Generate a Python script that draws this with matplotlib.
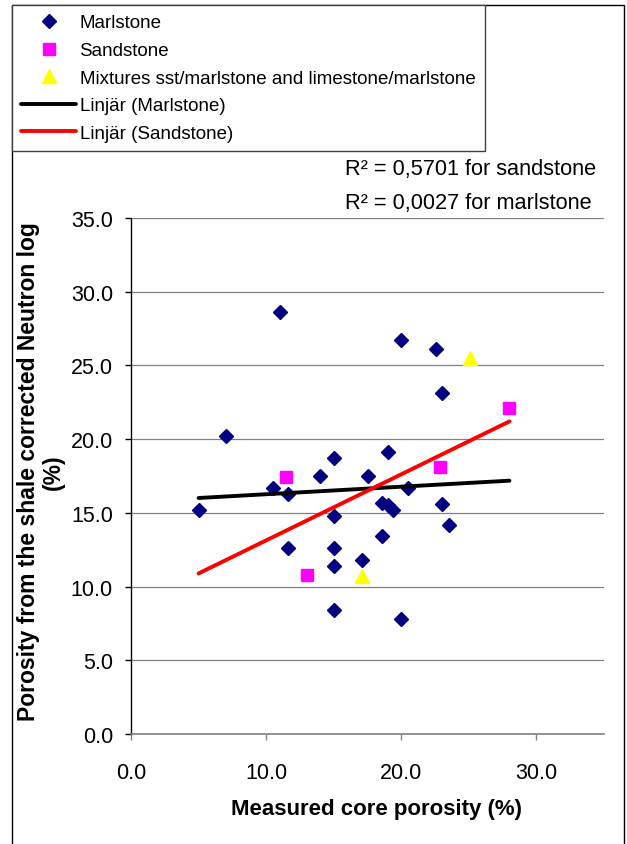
import numpy as np
import matplotlib
matplotlib.use('Agg')
import matplotlib.pyplot as plt
from matplotlib.patches import Rectangle

plt.rcParams['font.family'] = ['Liberation Sans', 'DejaVu Sans']

# Measured core porosity (%) and neutron log porosity (%) per lithology
marl_x = [5.0, 7.0, 10.5, 11.6, 11.6, 14.0, 15.0, 15.0, 15.0, 15.0, 15.0, 17.1, 17.5,
          18.6, 18.6, 19.0, 19.0, 19.4, 20.0, 20.5, 23.0, 23.5, 11.0, 20.0, 22.6, 23.0]
marl_y = [15.2, 20.2, 16.7, 16.3, 12.6, 17.5, 18.7, 14.8, 12.6, 11.4, 8.4, 11.8, 17.5,
          13.4, 15.7, 19.1, 15.5, 15.2, 7.8, 16.7, 15.6, 14.2, 28.6, 26.7, 26.1, 23.1]
sand_x = [11.5, 13.0, 22.9, 28.0]
sand_y = [17.4, 10.8, 18.1, 22.1]
mix_x = [17.1, 25.1]
mix_y = [10.7, 25.5]

r2_texts = ['R\u00b2 = 0,5701 for sandstone', 'R\u00b2 = 0,0027 for marlstone']
x_ticks = [0, 10, 20, 30]
y_ticks = [0, 5, 10, 15, 20, 25, 30, 35]

W, H = 627, 845
fig = plt.figure(figsize=(W / 100, H / 100), dpi=100)
ax = fig.add_axes([131 / W, 1 - 735 / H, 473 / W, 516 / H])

# linear trend lines across the full porosity range
x_all = marl_x + sand_x + mix_x
x_fit = np.array([min(x_all), max(x_all)])
k_m, m_m = np.polyfit(marl_x, marl_y, 1)
k_s, m_s = np.polyfit(sand_x, sand_y, 1)

h1, = ax.plot(marl_x, marl_y, ls='none', marker='D', ms=6.8, color='#000080', zorder=3)
h2, = ax.plot(sand_x, sand_y, ls='none', marker='s', ms=8.2, color='#ff00ff', zorder=3)
h3, = ax.plot(mix_x, mix_y, ls='none', marker='^', ms=10, color='#ffff00', zorder=3)
h4, = ax.plot(x_fit, k_m * x_fit + m_m, color='black', lw=2.8, zorder=4,
              solid_capstyle='round')
h5, = ax.plot(x_fit, k_s * x_fit + m_s, color='#ff0000', lw=2.8, zorder=4,
              solid_capstyle='round')

ax.set_xlim(0, 35)
ax.set_ylim(0, 35)
ax.set_xticks(x_ticks)
ax.set_yticks(y_ticks)
ax.set_xticklabels(['%.1f' % v for v in x_ticks], fontsize=15.5)
ax.set_yticklabels(['%.1f' % v for v in y_ticks], fontsize=15.5)
ax.yaxis.grid(True, color='#808080', lw=0.9)
ax.set_axisbelow(True)
for s in ['top', 'right']:
    ax.spines[s].set_visible(False)
ax.spines['left'].set_color('black')
ax.spines['left'].set_linewidth(1)
ax.spines['bottom'].set_color('#808080')
ax.spines['bottom'].set_linewidth(1.2)
ax.tick_params(axis='y', length=4, width=1, color='black', pad=9)
ax.tick_params(axis='x', length=4, width=1, color='#808080', pad=16)

ax.set_xlabel('Measured core porosity (%)', fontsize=16, fontweight='bold')
ax.xaxis.set_label_coords(0.518, -0.125)
fig.text(41 / W, 1 - 472 / H, 'Porosity from the shale corrected Neutron log\n(%)',
         rotation=90, ha='center', va='center', multialignment='center',
         fontsize=16.5, fontweight='bold', linespacing=1.1)

fig.text(345 / W, 1 - 170 / H, r2_texts[0], fontsize=15.7, va='center', ha='left')
fig.text(345 / W, 1 - 203 / H, r2_texts[1], fontsize=15.7, va='center', ha='left')

# outer chart frame
fig.patches.append(Rectangle((12 / W, -0.01), 612 / W, 1 - 6 / H + 0.01,
                             transform=fig.transFigure, fill=False,
                             edgecolor='black', lw=1))

leg = fig.legend([h1, h2, h3, h4, h5],
                 ['Marlstone', 'Sandstone', 'Mixtures sst/marlstone and limestone/marlstone',
                  'Linjär (Marlstone)', 'Linjär (Sandstone)'],
                 loc='upper left', bbox_to_anchor=(12 / W, 1 - 6 / H),
                 bbox_transform=fig.transFigure, borderaxespad=0, fontsize=13.5,
                 frameon=True, fancybox=False, edgecolor='#404040', framealpha=1,
                 handlelength=2.9, handletextpad=0.2, borderpad=0.5,
                 labelspacing=0.56, numpoints=1)
leg.get_frame().set_linewidth(1)

fig.savefig('out.png', dpi=100)
